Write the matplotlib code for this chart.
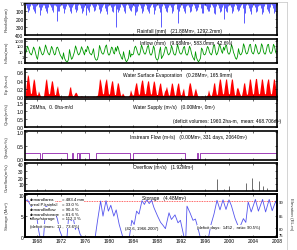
import matplotlib
matplotlib.use('Agg')
import matplotlib.pyplot as plt
from matplotlib.ticker import MultipleLocator, FixedLocator, NullFormatter
from matplotlib.lines import Line2D
import numpy as np

plt.rcParams['font.family'] = ['Liberation Sans', 'DejaVu Sans']

# ---- data (6 values per year, bimonthly) ----
years = list(range(1966, 2008))

rain = [  # mm, hanging bars
    [25, 60, 110, 90, 40, 15], [20, 70, 95, 120, 35, 10], [15, 55, 150, 85, 50, 20],
    [30, 65, 100, 130, 45, 15], [20, 50, 90, 110, 30, 25], [35, 230, 105, 95, 40, 10],
    [20, 60, 120, 80, 35, 15], [25, 55, 95, 125, 50, 20], [15, 70, 110, 90, 30, 10],
    [30, 60, 130, 100, 45, 20], [150, 65, 90, 115, 40, 15], [20, 55, 100, 85, 35, 10],
    [25, 75, 120, 95, 50, 20], [15, 60, 105, 140, 40, 15], [30, 50, 95, 110, 35, 20],
    [300, 70, 115, 90, 45, 10], [20, 55, 100, 120, 30, 15], [25, 65, 90, 105, 50, 20],
    [35, 150, 110, 95, 40, 10], [20, 60, 125, 100, 35, 15], [25, 70, 95, 130, 45, 20],
    [15, 55, 140, 90, 40, 10], [30, 65, 110, 300, 35, 15], [20, 60, 100, 115, 50, 20],
    [25, 50, 120, 95, 30, 10], [15, 70, 250, 105, 45, 15], [30, 60, 95, 130, 40, 20],
    [20, 55, 115, 100, 35, 10], [25, 65, 105, 90, 50, 15], [15, 60, 130, 120, 30, 20],
    [35, 70, 100, 95, 45, 10], [20, 50, 120, 140, 35, 15], [25, 65, 110, 105, 50, 20],
    [200, 60, 95, 115, 40, 10], [20, 55, 125, 100, 35, 15], [30, 70, 105, 90, 45, 20],
    [15, 60, 250, 120, 30, 10], [25, 65, 100, 135, 50, 15], [20, 55, 115, 95, 35, 20],
    [30, 60, 140, 110, 40, 10], [15, 70, 105, 125, 45, 15], [25, 60, 120, 100, 35, 20],
]

inflow = [  # mm, log scale
    [4, 12, 90, 30, 6, 3], [2, 8, 60, 25, 5, 0.8], [0.3, 5, 70, 20, 4, 2],
    [3, 15, 150, 40, 8, 3], [2, 10, 80, 35, 6, 2], [3, 40, 60, 20, 5, 1.5],
    [0.8, 0.3, 5, 0.5, 0.2, 0.1], [0.1, 0.3, 20, 2, 0.3, 0.5], [2, 8, 100, 30, 5, 2],
    [3, 10, 70, 25, 6, 2], [20, 8, 90, 40, 5, 3], [2, 6, 30, 1, 0.3, 0.2],
    [0.3, 2, 120, 30, 6, 3], [3, 12, 80, 150, 8, 2], [2, 8, 60, 40, 5, 3],
    [50, 10, 90, 30, 4, 2], [0.5, 0.3, 8, 1, 0.2, 0.1], [0.2, 0.5, 15, 0.8, 3, 2],
    [3, 40, 90, 30, 6, 2], [2, 10, 150, 40, 8, 3], [3, 12, 80, 120, 6, 2],
    [2, 8, 100, 30, 0.8, 0.3], [0.2, 0.5, 10, 60, 0.4, 1], [2, 10, 70, 50, 5, 2],
    [3, 8, 120, 30, 4, 2], [2, 12, 200, 40, 6, 3], [3, 8, 50, 80, 5, 2],
    [2, 10, 90, 30, 4, 1], [0.4, 0.2, 8, 0.6, 0.2, 0.1], [0.2, 0.5, 40, 20, 3, 2],
    [3, 15, 80, 40, 6, 3], [2, 8, 120, 150, 8, 2], [4, 20, 200, 60, 10, 4],
    [60, 15, 100, 150, 8, 3], [3, 12, 180, 50, 6, 2], [0.5, 0.3, 1, 30, 4, 2],
    [3, 10, 250, 80, 8, 3], [4, 20, 150, 200, 10, 4], [3, 15, 200, 60, 8, 3],
    [4, 12, 250, 100, 8, 3], [3, 20, 150, 200, 10, 4], [4, 15, 200, 80, 8, 3],
]

evap = [  # ha-m
    [0.12, 0.35, 0.55, 0.5, 0.3, 0.08], [0.1, 0.3, 0.45, 0.4, 0.2, 0.05],
    [0.05, 0.15, 0.08, 0.02, 0.01, 0.01], [0.02, 0.2, 0.4, 0.45, 0.25, 0.08],
    [0.08, 0.25, 0.4, 0.38, 0.22, 0.06], [0.06, 0.2, 0.28, 0.12, 0.03, 0.01],
    [0.01, 0.01, 0.02, 0.01, 0.01, 0.01], [0.01, 0.08, 0.22, 0.26, 0.1, 0.03],
    [0.03, 0.08, 0.12, 0.1, 0.04, 0.01], [0.01, 0.02, 0.03, 0.01, 0.01, 0.01],
    [0.01, 0.01, 0.02, 0.01, 0.01, 0.01], [0.01, 0.01, 0.02, 0.01, 0.01, 0.03],
    [0.05, 0.22, 0.45, 0.4, 0.25, 0.08], [0.08, 0.28, 0.4, 0.45, 0.25, 0.07],
    [0.08, 0.25, 0.38, 0.4, 0.22, 0.06], [0.06, 0.22, 0.36, 0.32, 0.18, 0.05],
    [0.04, 0.1, 0.06, 0.02, 0.01, 0.01], [0.01, 0.02, 0.06, 0.18, 0.1, 0.04],
    [0.05, 0.2, 0.32, 0.36, 0.2, 0.06], [0.08, 0.28, 0.4, 0.42, 0.25, 0.08],
    [0.08, 0.25, 0.38, 0.4, 0.22, 0.07], [0.08, 0.26, 0.4, 0.36, 0.2, 0.06],
    [0.06, 0.2, 0.32, 0.35, 0.18, 0.05], [0.04, 0.14, 0.18, 0.26, 0.15, 0.05],
    [0.05, 0.2, 0.35, 0.32, 0.18, 0.05], [0.05, 0.2, 0.32, 0.35, 0.18, 0.05],
    [0.05, 0.15, 0.22, 0.06, 0.01, 0.02], [0.05, 0.25, 0.36, 0.32, 0.18, 0.05],
    [0.04, 0.15, 0.22, 0.12, 0.04, 0.01], [0.01, 0.01, 0.03, 0.02, 0.01, 0.01],
    [0.01, 0.03, 0.06, 0.18, 0.08, 0.03], [0.05, 0.15, 0.32, 0.36, 0.18, 0.05],
    [0.08, 0.3, 0.45, 0.42, 0.25, 0.08], [0.08, 0.26, 0.42, 0.45, 0.25, 0.08],
    [0.08, 0.3, 0.45, 0.42, 0.22, 0.06], [0.05, 0.2, 0.24, 0.18, 0.1, 0.04],
    [0.04, 0.15, 0.32, 0.36, 0.2, 0.06], [0.08, 0.26, 0.45, 0.42, 0.25, 0.08],
    [0.08, 0.3, 0.45, 0.45, 0.25, 0.08], [0.08, 0.26, 0.45, 0.42, 0.25, 0.08],
    [0.08, 0.3, 0.42, 0.45, 0.25, 0.08], [0.08, 0.26, 0.45, 0.42, 0.25, 0.08],
]

inst_base = 0.22   # m3/s
inst_gaps = [(1968.5, 1968.9), (1973.0, 1973.8), (1974.0, 1974.6), (1975.0, 1975.2),
             (1976.7, 1977.8), (1983.5, 1984.0), (1992.7, 1994.6), (1994.9, 1995.1)]

over_t = [1969.3, 1998.0, 1999.1, 2000.0, 2002.9, 2003.9, 2005.0, 2005.7, 2006.4]
over_v = [3, 18, 3, 8, 12, 20, 15, 8, 5]

stor_t = [1966.0, 1966.4, 1966.7, 1967.3, 1967.7, 1968.0, 1968.3, 1968.5, 1969.1, 1969.5,
          1969.9, 1970.3, 1970.8, 1971.0, 1971.4, 1971.8, 1972.2, 1973.0, 1973.3, 1973.7,
          1974.0, 1974.4, 1974.7, 1975.2, 1975.5, 1977.7, 1978.1, 1978.6, 1979.0, 1979.5,
          1979.9, 1980.3, 1980.8, 1981.2, 1981.7, 1982.3, 1983.4, 1983.8, 1984.2, 1984.6,
          1985.0, 1985.5, 1985.9, 1986.3, 1986.7, 1987.1, 1987.5, 1988.1, 1988.6, 1989.0,
          1989.4, 1990.0, 1990.4, 1991.0, 1991.5, 1991.9, 1992.5, 1992.8, 1993.0, 1993.5,
          1994.0, 1994.4, 1994.7, 1995.2, 1996.6, 1997.0, 1997.5, 1998.0, 1998.5, 1999.0,
          1999.5, 2000.0, 2000.4, 2001.0, 2001.7, 2002.4, 2002.8, 2003.2, 2003.7, 2004.4,
          2004.9, 2005.6, 2006.1, 2006.7, 2007.2, 2007.8, 2008.0]
stor_v = [8.6, 8.9, 8.2, 6.7, 6.9, 4.4, 1.4, 0.0, 0.0, 8.0,
          6.0, 7.2, 5.2, 6.0, 4.3, 1.5, 0.0, 0.0, 5.4, 3.9,
          4.9, 1.8, 3.0, 0.6, 0.0, 0.0, 4.0, 8.6, 5.0, 8.7,
          6.2, 7.6, 5.0, 6.5, 3.0, 0.0, 0.0, 4.0, 3.0, 6.2,
          5.5, 8.7, 7.8, 9.0, 8.0, 8.8, 7.0, 5.0, 3.5, 2.8,
          2.0, 5.8, 4.2, 5.3, 3.4, 4.0, 0.0, 0.0, 7.4, 5.8,
          4.0, 4.3, 2.8, 0.0, 0.0, 3.0, 5.5, 8.8, 6.5, 8.9,
          6.6, 8.9, 7.5, 4.5, 2.0, 4.4, 3.5, 8.4, 6.0, 9.0,
          6.2, 9.0, 6.0, 9.0, 6.3, 8.6, 7.4]

full_storage = 8.6
elev_ticks = [75, 80, 85, 90]
elev_at_storage = [0.5, 2.1, 5.1, 8.6]

# ---- figure ----
W, H = 297, 251
fig = plt.figure(figsize=(W / 100, H / 100), dpi=100)
FS = 3.5


def panel(top, bottom):
    return fig.add_axes([25 / W, 1 - bottom / H, 252 / W, (bottom - top) / H])


def style(ax, last=False):
    for s in ax.spines.values():
        s.set_linewidth(1.2)
    ax.set_xlim(1966, 2008)
    ax.xaxis.set_major_locator(MultipleLocator(4))
    ax.tick_params(direction='in', length=1.5, width=0.4, labelsize=FS, pad=1,
                   top=True, right=True)
    ax.tick_params(which='minor', direction='in', length=0.8, width=0.3, top=True, right=True)
    if not last:
        ax.tick_params(axis='x', labelbottom=False)


def ftext(x, y, s, fs=FS, **kw):
    fig.text(x / W, 1 - y / H, s, fontsize=fs, va='center', **kw)


def ylab(y, s):
    ftext(7, y, s, fs=3.2, rotation=90, ha='center', color='#333333')


t6 = np.array([y + (i + 0.5) / 6 for y in years for i in range(6)])

# rainfall
ax1 = panel(4, 36)
ax1.vlines(t6, 0, np.ravel(rain), color='#0000ff', lw=0.45)
ax1.set_ylim(400, 0)
ax1.set_yticks([0, 100, 200, 300, 400])
ax1.yaxis.set_minor_locator(MultipleLocator(50))
style(ax1)
ftext(137, 31, 'Rainfall (mm)   (21.88Mm³, 1292.2mm)')
ylab(20, 'Rainfall(mm)')

# inflow
ax2 = panel(40, 64)
ax2.plot(t6, np.ravel(inflow), color='#009900', lw=0.6)
ax2.set_yscale('log')
ax2.set_ylim(0.06, 2000)
ax2.set_yticks([0.1, 1, 10, 100, 1000])
ax2.set_yticklabels(['0.1', '1', '10', '100', '1000'])
ax2.yaxis.set_minor_formatter(NullFormatter())
style(ax2)
ax2.tick_params(axis='y', labelsize=3.0)
ftext(140, 44, 'Inflow (mm)   (9.88Mm³, 583.0mm, 42.6%)')
ylab(52, 'Inflow(mm)')

# evaporation
ax3 = panel(70, 98)
ax3.fill_between(t6, 0, np.ravel(evap), color='#ff0000', lw=0)
ax3.set_ylim(0, 0.68)
ax3.set_yticks([0.0, 0.2, 0.4, 0.6])
ax3.set_yticklabels(['0.0', '0.2', '0.4', '0.6'])
style(ax3)
ftext(123, 76, 'Water Surface Evaporation   (0.28Mm³, 165.9mm)')
ylab(84, 'Ep (ha-m)')

# water supply
ax4 = panel(100, 128)
ax4.set_ylim(0, 1.75)
ax4.set_yticks([0.0, 0.5, 1.0, 1.5])
ax4.set_yticklabels(['0.0', '0.5', '1.0', '1.5'])
style(ax4)
ftext(30, 107, '26Mha,  0. 0ha-m/d')
ftext(133, 107, 'Water Supply (m³/s)   (0.00Mm³, 0m³)')
ftext(173, 122, '(deficit volumes: 1960.2ha-m,  mean: 468.706m³)')
ylab(114, 'Qsup(m³/s)')

# instream flow
ix, iy = [1966.0], [inst_base]
for a, b in inst_gaps:
    ix += [a, a, b, b]
    iy += [inst_base, 0, 0, inst_base]
ix.append(2008.0)
iy.append(inst_base)
ax5 = panel(132, 161)
ax5.plot(ix, iy, color='#a040b8', lw=0.7)
ax5.set_ylim(-0.02, 1.05)
ax5.set_yticks([0.0, 0.5, 1.0])
ax5.set_yticklabels(['0.0', '0.5', '1.0'])
style(ax5)
ftext(130, 138, 'Instream Flow (m³/s)   (0.00Mm³, 331 days, 20640m³)')
ylab(147, 'Qinst(m³/s)')

# overflow
ax6 = panel(164, 192)
ax6.vlines(over_t, 0, over_v, color='#555555', lw=0.6)
ax6.set_ylim(0, 42)
ax6.set_yticks([0, 10, 20, 30, 40])
ax6.set_yticklabels(['', '10', '20', '30', '40'])
style(ax6)
ftext(133, 168, 'Overflow (m³/s)   (1.92Mm³)')
ylab(178, 'Overflow(m³/s)')

# storage
ax7 = panel(195, 238)
ax7.axhline(full_storage, color='#ff3030', lw=0.6, ls=(0, (1, 1)))
ax7.plot(stor_t, stor_v, color='#5555ee', lw=0.6)
ax7.set_ylim(0, 10.3)
ax7.set_yticks([0, 5, 10])
ax7.xaxis.set_minor_locator(MultipleLocator(1))
style(ax7, last=True)
axr = ax7.twinx()
axr.set_ylim(ax7.get_ylim())
axr.yaxis.set_major_locator(FixedLocator(elev_at_storage))
axr.set_yticklabels([str(v) for v in elev_ticks])
axr.tick_params(direction='in', length=1.5, width=0.4, labelsize=3.0, pad=1)
for s in axr.spines.values():
    s.set_linewidth(1.2)

wb = dict(fc='white', ec='none', pad=0.1)
SF = 3.1
stats = [('demand/area', '= 483.4 mm'), ('areal P./rainfall', '= 33.0 %'),
         ('demand/inflow', '= 90.4 %'), ('demand/storage', '= 81.6 %'),
         ('inflow/storage', '= 112.3 %')]
for i, (k, v) in enumerate(stats):
    ftext(30, 200.5 + i * 4.7, k, fs=SF, bbox=wb)
    ftext(62, 200.5 + i * 4.7, v, fs=SF, bbox=wb)
ftext(30, 227, '(deficit times:  11 ,  73.6%)', fs=SF, bbox=wb)
ftext(142, 198.5, 'Storage   (4.48Mm³)', bbox=wb)
ftext(125, 229, '(42.6, 1966-2007)', fs=SF, bbox=wb)
ftext(197, 228, '(deficit days:  1452 ,  ratio: 90.5%)', fs=SF, bbox=wb)
ylab(216, 'Storage (Mm³)')
ftext(291, 214, 'Elevation (EL.m)', fs=3.2, rotation=270, ha='center', color='#333333')

# window frame
fig.add_artist(Line2D([20 / W, 287 / W], [1 - 2.5 / H, 1 - 2.5 / H], color='#cccccc', lw=0.6))
fig.add_artist(Line2D([287 / W, 287 / W], [0, 1 - 2.5 / H], color='#cccccc', lw=0.6))

fig.savefig('out.png', dpi=100)
